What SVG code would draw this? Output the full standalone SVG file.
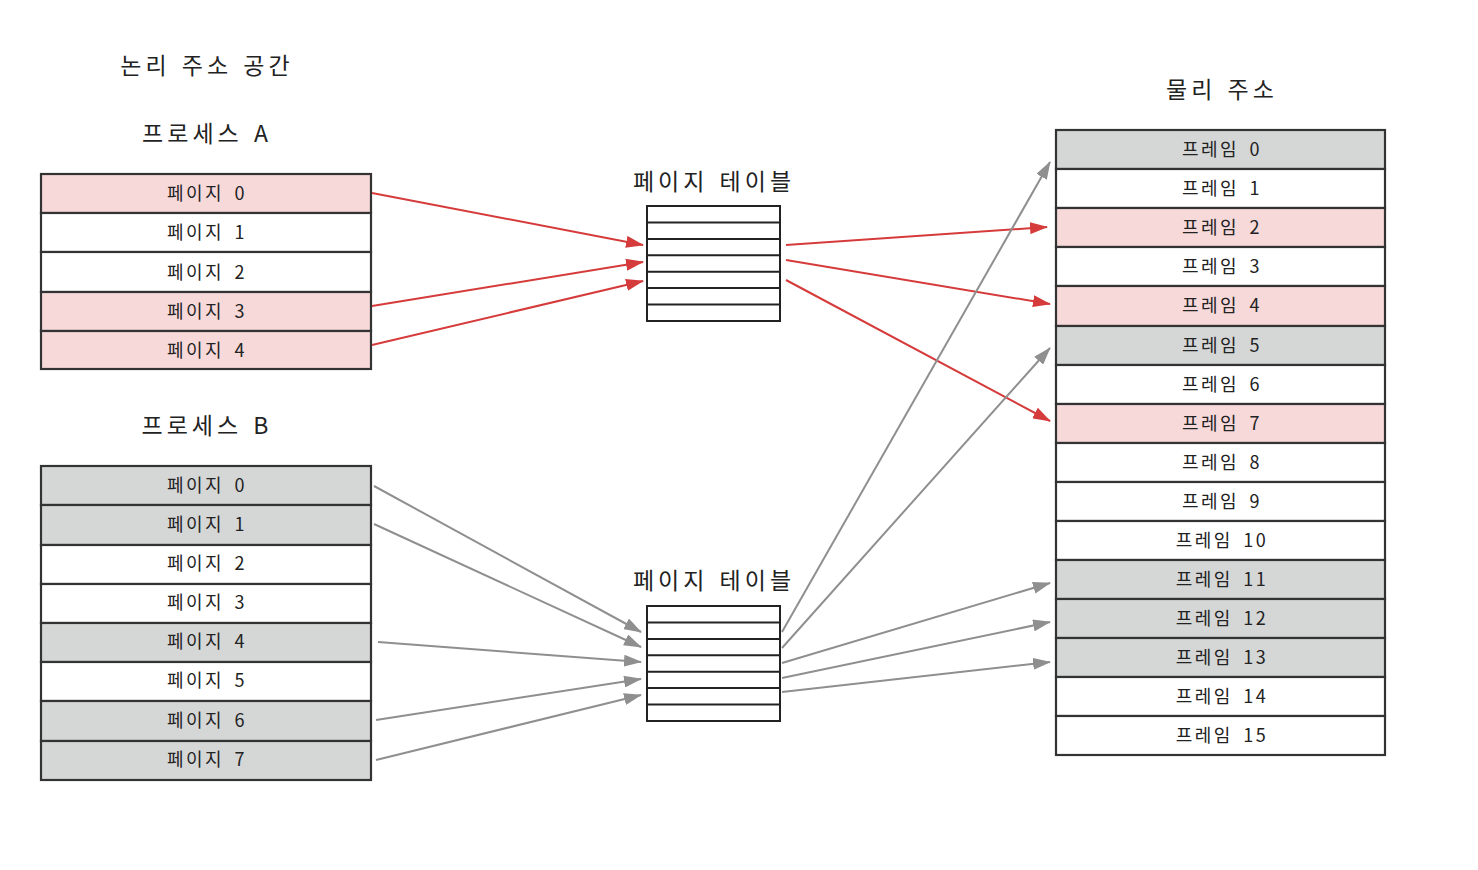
<svg xmlns="http://www.w3.org/2000/svg" width="1478" height="870" viewBox="0 0 1478 870">
<defs>
<style>
.t{font-family:"Noto Sans CJK KR","Noto Sans",sans-serif;fill:#222;text-anchor:middle;}
.lbl{font-size:18px;letter-spacing:2.5px;word-spacing:4px;}
.ttl{font-size:23px;letter-spacing:4px;word-spacing:2px;}
.box{stroke:#333;stroke-width:2.2;}
.pk{fill:#f7d9da;}
.gy{fill:#d5d6d6;}
.wh{fill:#fff;}
.pt{fill:#fff;stroke:#222;stroke-width:2;}
.ptl{stroke:#222;stroke-width:2;}
.r{stroke:#d63b3b;stroke-width:2;fill:none;marker-end:url(#ar);}
.g{stroke:#8f8f8f;stroke-width:2;fill:none;marker-end:url(#ag);}
</style>
<marker id="ar" viewBox="0 0 18 12" refX="17" refY="6" markerWidth="18" markerHeight="12" markerUnits="userSpaceOnUse" orient="auto"><path d="M0,0 L18,6 L0,12 z" fill="#d63b3b"/></marker>
<marker id="ag" viewBox="0 0 18 12" refX="17" refY="6" markerWidth="18" markerHeight="12" markerUnits="userSpaceOnUse" orient="auto"><path d="M0,0 L18,6 L0,12 z" fill="#8f8f8f"/></marker>
</defs>
<rect width="1478" height="870" fill="#fff"/>
<g id="titles">
<text class="t ttl" x="207" y="74">논리 주소 공간</text>
<text class="t ttl" x="207" y="142">프로세스 A</text>
<text class="t ttl" x="207" y="434">프로세스 B</text>
<text class="t ttl" x="1222" y="98">물리 주소</text>
</g>
<g id="processA">
<rect class="box pk" x="41" y="174" width="330" height="39"/>
<rect class="box wh" x="41" y="213" width="330" height="39"/>
<rect class="box wh" x="41" y="252" width="330" height="40"/>
<rect class="box pk" x="41" y="292" width="330" height="39"/>
<rect class="box pk" x="41" y="331" width="330" height="38"/>
<text class="t lbl" x="207" y="200">페이지 0</text>
<text class="t lbl" x="207" y="239">페이지 1</text>
<text class="t lbl" x="207" y="279">페이지 2</text>
<text class="t lbl" x="207" y="318">페이지 3</text>
<text class="t lbl" x="207" y="357">페이지 4</text>
</g>
<g id="processB">
<rect class="box gy" x="41" y="466" width="330" height="39"/>
<rect class="box gy" x="41" y="505" width="330" height="40"/>
<rect class="box wh" x="41" y="545" width="330" height="39"/>
<rect class="box wh" x="41" y="584" width="330" height="39"/>
<rect class="box gy" x="41" y="623" width="330" height="39"/>
<rect class="box wh" x="41" y="662" width="330" height="39"/>
<rect class="box gy" x="41" y="701" width="330" height="40"/>
<rect class="box gy" x="41" y="741" width="330" height="39"/>
<text class="t lbl" x="207" y="492">페이지 0</text>
<text class="t lbl" x="207" y="531">페이지 1</text>
<text class="t lbl" x="207" y="570">페이지 2</text>
<text class="t lbl" x="207" y="609">페이지 3</text>
<text class="t lbl" x="207" y="648">페이지 4</text>
<text class="t lbl" x="207" y="687">페이지 5</text>
<text class="t lbl" x="207" y="727">페이지 6</text>
<text class="t lbl" x="207" y="766">페이지 7</text>
</g>
<g id="pageTableA">
<text class="t ttl" x="714" y="190">페이지 테이블</text>
<rect class="pt" x="647" y="206" width="133" height="115"/>
<path class="ptl" d="M647,222.4H780M647,238.9H780M647,255.3H780M647,271.7H780M647,288.1H780M647,304.6H780"/>
</g>
<g id="pageTableB">
<text class="t ttl" x="714" y="589">페이지 테이블</text>
<rect class="pt" x="647" y="606" width="133" height="115"/>
<path class="ptl" d="M647,622.4H780M647,638.9H780M647,655.3H780M647,671.7H780M647,688.1H780M647,704.6H780"/>
</g>
<g id="physical">
<rect class="box gy" x="1056" y="130" width="329" height="39"/>
<rect class="box wh" x="1056" y="169" width="329" height="39"/>
<rect class="box pk" x="1056" y="208" width="329" height="39"/>
<rect class="box wh" x="1056" y="247" width="329" height="39"/>
<rect class="box pk" x="1056" y="286" width="329" height="40"/>
<rect class="box gy" x="1056" y="326" width="329" height="39"/>
<rect class="box wh" x="1056" y="365" width="329" height="39"/>
<rect class="box pk" x="1056" y="404" width="329" height="39"/>
<rect class="box wh" x="1056" y="443" width="329" height="39"/>
<rect class="box wh" x="1056" y="482" width="329" height="39"/>
<rect class="box wh" x="1056" y="521" width="329" height="39"/>
<rect class="box gy" x="1056" y="560" width="329" height="39"/>
<rect class="box gy" x="1056" y="599" width="329" height="39"/>
<rect class="box gy" x="1056" y="638" width="329" height="39"/>
<rect class="box wh" x="1056" y="677" width="329" height="39"/>
<rect class="box wh" x="1056" y="716" width="329" height="39"/>
<text class="t lbl" x="1222" y="156">프레임 0</text>
<text class="t lbl" x="1222" y="195">프레임 1</text>
<text class="t lbl" x="1222" y="234">프레임 2</text>
<text class="t lbl" x="1222" y="273">프레임 3</text>
<text class="t lbl" x="1222" y="312">프레임 4</text>
<text class="t lbl" x="1222" y="352">프레임 5</text>
<text class="t lbl" x="1222" y="391">프레임 6</text>
<text class="t lbl" x="1222" y="430">프레임 7</text>
<text class="t lbl" x="1222" y="469">프레임 8</text>
<text class="t lbl" x="1222" y="508">프레임 9</text>
<text class="t lbl" x="1222" y="547">프레임 10</text>
<text class="t lbl" x="1222" y="586">프레임 11</text>
<text class="t lbl" x="1222" y="625">프레임 12</text>
<text class="t lbl" x="1222" y="664">프레임 13</text>
<text class="t lbl" x="1222" y="703">프레임 14</text>
<text class="t lbl" x="1222" y="742">프레임 15</text>
</g>
<g id="connectors">
<path class="r" d="M372,193L643,245"/>
<path class="r" d="M372,306L643,262"/>
<path class="r" d="M372,345L643,281"/>
<path class="r" d="M786,245L1047,227"/>
<path class="r" d="M786,260L1050,304"/>
<path class="r" d="M786,280L1050,421"/>
<path class="g" d="M374,486L641,632"/>
<path class="g" d="M374,524L641,647"/>
<path class="g" d="M378,642L641,662"/>
<path class="g" d="M376,720L641,679"/>
<path class="g" d="M376,760L641,695"/>
<path class="g" d="M782,632L1050,162"/>
<path class="g" d="M782,648L1050,348"/>
<path class="g" d="M782,663L1050,583"/>
<path class="g" d="M782,678L1050,622"/>
<path class="g" d="M782,692L1050,662"/>
</g>
</svg>
